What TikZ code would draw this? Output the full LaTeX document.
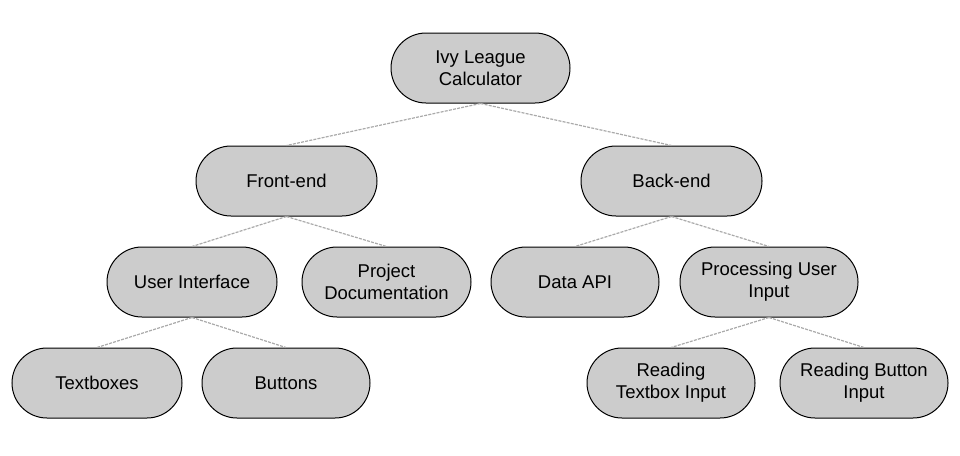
\documentclass[tikz,border=0pt]{standalone}
\usepackage{fontspec}
\setmainfont{Liberation Sans}
\definecolor{boxfill}{HTML}{CCCCCC}
\definecolor{linkgray}{HTML}{AAAAAA}
\begin{document}
\begin{tikzpicture}[x=1pt,y=-1pt,
  pill/.style={draw=black, line width=1pt, fill=boxfill, rounded corners=35pt,
    minimum height=70pt, align=center, inner sep=0pt,
    font=\fontsize{18.5}{21.7}\selectfont},
  link/.style={draw=linkgray, line width=1.2pt, dash pattern=on 3pt off 1.2pt}]
\useasboundingbox (0,0) rectangle (960,455);
\node[pill, minimum width=179pt] (root) at (480.5,68) {Ivy League\\Calculator};
\node[pill, minimum width=181pt] (fe) at (286.5,181) {Front-end};
\node[pill, minimum width=181pt] (be) at (671.5,181) {Back-end};
\node[pill, minimum width=170pt] (ui) at (192,282) {User Interface};
\node[pill, minimum width=169pt] (pd) at (386.5,282) {Project\\Documentation};
\node[pill, minimum width=168pt] (api) at (575,282) {Data API};
\node[pill, minimum width=178pt] (pui) at (769,282) {Processing User\\Input};
\node[pill, minimum width=170pt] (tb) at (97,383) {Textboxes};
\node[pill, minimum width=168pt] (bt) at (286,383) {Buttons};
\node[pill, minimum width=168pt] (rti) at (671,383) {Reading\\Textbox Input};
\node[pill, minimum width=168pt] (rbi) at (864,383) {Reading Button\\Input};
\draw[link] (root.south) -- (fe.north);
\draw[link] (root.south) -- (be.north);
\draw[link] (fe.south) -- (ui.north);
\draw[link] (fe.south) -- (pd.north);
\draw[link] (be.south) -- (api.north);
\draw[link] (be.south) -- (pui.north);
\draw[link] (ui.south) -- (tb.north);
\draw[link] (ui.south) -- (bt.north);
\draw[link] (pui.south) -- (rti.north);
\draw[link] (pui.south) -- (rbi.north);
\end{tikzpicture}
\end{document}
